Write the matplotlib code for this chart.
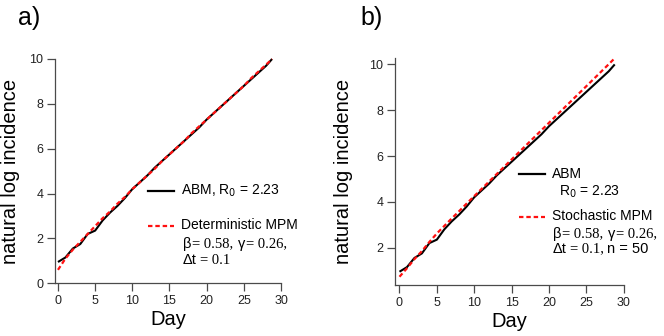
import matplotlib
matplotlib.use("Agg")
import matplotlib.pyplot as plt

# days (last point is the end of the run)
days = [0, 1, 2, 3, 4, 5, 6, 7, 8, 9, 10, 11, 12, 13, 14, 15, 16, 17, 18, 19,
        20, 21, 22, 23, 24, 25, 26, 27, 28, 28.8]

abm = [0.95, 1.15, 1.55, 1.75, 2.2, 2.35, 2.8, 3.15, 3.45, 3.8, 4.2, 4.5,
       4.8, 5.15, 5.45, 5.75, 6.05, 6.35, 6.65, 6.95, 7.3, 7.6, 7.9, 8.2,
       8.5, 8.8, 9.1, 9.4, 9.7, 10.0]

det_mpm = [0.6, 1.1, 1.5, 1.85, 2.2, 2.55, 2.9, 3.2, 3.55, 3.85, 4.2, 4.5,
           4.8, 5.1, 5.45, 5.75, 6.05, 6.35, 6.7, 7.0, 7.3, 7.6, 7.9, 8.2,
           8.5, 8.8, 9.15, 9.45, 9.75, 10.0]

sto_mpm = [0.73, 1.1, 1.5, 1.85, 2.25, 2.62, 2.95, 3.28, 3.6, 3.93, 4.25,
           4.57, 4.89, 5.21, 5.53, 5.85, 6.17, 6.49, 6.81, 7.13, 7.45, 7.77,
           8.09, 8.41, 8.73, 9.05, 9.37, 9.69, 10.01, 10.27]

xticks = [0, 5, 10, 15, 20, 25, 30]
yticks_a = [0, 2, 4, 6, 8, 10]
yticks_b = [2, 4, 6, 8, 10]

W, H = 664, 336
SANS = "Liberation Sans"
SERIF = "Liberation Serif"
spine_col = "#4a4a4a"
red = "#ff1010"
dash = (0, (2.0, 1.3))

fig = plt.figure(figsize=(W / 100, H / 100), dpi=100)

# axes boxes in pixels (left, top, right, bottom) measured on the picture
def add_axes(l, t, r, b):
    return fig.add_axes([l / W, 1 - b / H, (r - l) / W, (b - t) / H])

ax_a = add_axes(55, 59, 281, 283.3)
ax_b = add_axes(395, 58, 623.7, 285)

def style(ax, yticks, xlim, ylim, ylab_x):
    ax.set_xlim(*xlim)
    ax.set_ylim(*ylim)
    ax.set_xticks(xticks)
    ax.set_yticks(yticks)
    for s in ["top", "right"]:
        ax.spines[s].set_visible(False)
    for s in ["left", "bottom"]:
        ax.spines[s].set_color(spine_col)
        ax.spines[s].set_linewidth(0.9)
    ax.tick_params(axis="both", length=5.5, width=0.9, color=spine_col,
                   pad=3, labelsize=9, labelcolor="#222222")
    for lab in ax.get_xticklabels() + ax.get_yticklabels():
        lab.set_family(SANS)
    ax.set_xlabel("Day", family=SANS, fontsize=14.5, labelpad=2)
    ax.set_ylabel("natural log incidence", family=SANS, fontsize=14.5)
    ax.yaxis.set_label_coords(ylab_x, 0.5)
    ax.patch.set_visible(False)

style(ax_a, yticks_a, (-0.4, 30), (0, 10), -0.155)
style(ax_b, yticks_b, (-0.6, 30), (0.37, 10.28), -0.183)

ax_a.plot(days, abm, color="black", lw=1.5, solid_capstyle="butt", clip_on=False)
ax_a.plot(days, det_mpm, color=red, lw=1.6, ls=dash, clip_on=False)
ax_b.plot(days, abm, color="black", lw=1.5, solid_capstyle="butt", clip_on=False)
ax_b.plot(days, sto_mpm, color=red, lw=1.6, ls=dash, clip_on=False)

renderer = fig.canvas.get_renderer()

def px(x, y):
    return x / W, 1 - y / H

def key(x0, x1, y, **kw):
    fig.add_artist(plt.Line2D([x0 / W, x1 / W], [1 - y / H, 1 - y / H],
                              transform=fig.transFigure, lw=1.6, **kw))

def write(x, y, parts, size=10):
    # parts: (text, family, extra gap in px before)
    cur = x
    for text, fam, gap in parts:
        cur += gap
        t = fig.text(*px(cur, y), text, family=fam, fontsize=size,
                     va="center", ha="left")
        cur = t.get_window_extent(renderer).x1

# panel a legend
key(148, 174, 191, color="black")
write(181, 191, [("ABM, R$_0$ = 2.23", SANS, 0)])
key(148, 174, 225.7, color=red, ls=dash)
write(181, 225, [("Deterministic MPM", SANS, 0)])
write(183, 244, [("β", SANS, 0), ("= 0.58,", SERIF, 1), ("γ", SANS, 4),
                 ("= 0.26,", SERIF, 1)], size=10.5)
write(183, 260, [("Δt", SANS, 0), ("= 0.1", SERIF, 3)], size=10.5)

# panel b legend
key(519, 545, 174, color="black")
write(551.7, 174, [("ABM", SANS, 0)])
write(559, 191.7, [("R$_0$ = 2.23", SANS, 0)])
key(519, 545, 216.7, color=red, ls=dash)
write(551.7, 216, [("Stochastic MPM", SANS, 0)])
write(553, 234, [("β", SANS, 0), ("= 0.58,", SERIF, 1), ("γ", SANS, 4),
                 ("= 0.26,", SERIF, 1)], size=10.5)
write(553, 249, [("Δt", SANS, 0), ("= 0.1,", SERIF, 3), ("n = 50", SANS, 3)],
      size=10.5)

# panel letters
fig.text(*px(18, 25.5), "a)", family=SANS, fontsize=18, va="baseline")
fig.text(*px(360, 25.5), "b)", family=SANS, fontsize=18, va="baseline")

fig.savefig("out.png", dpi=100)
